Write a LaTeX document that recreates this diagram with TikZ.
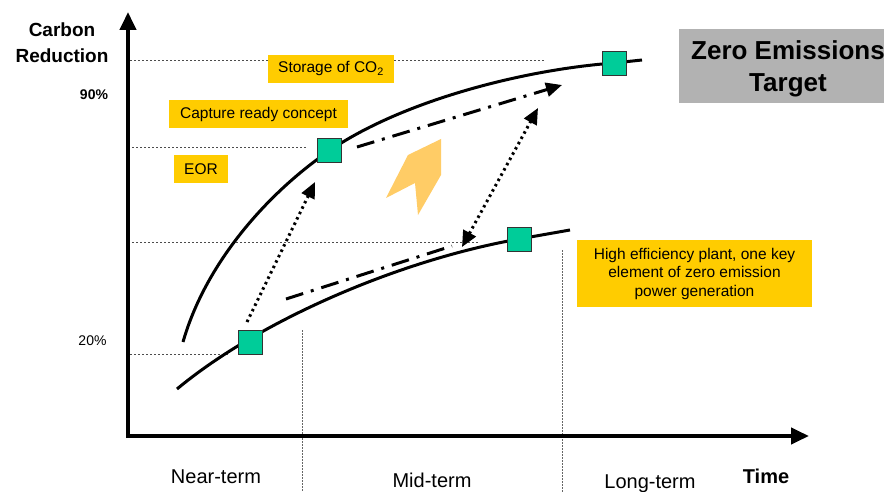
\documentclass[tikz,border=0pt]{standalone}
\usepackage{fontspec}
\setmainfont{Liberation Sans}
\usetikzlibrary{arrows.meta}
\definecolor{boxor}{HTML}{FFCC00}
\definecolor{sqgreen}{HTML}{00CC99}
\definecolor{zgray}{HTML}{B2B2B2}
\definecolor{bigor}{HTML}{FFCC66}
\tikzset{mytip/.tip={Triangle[length=16pt,width=14pt]}}
\begin{document}
\begin{tikzpicture}[x=1pt,y=-1pt,
  axis/.style={line width=4pt,-{Triangle[length=18pt,width=16pt]}},
  curve/.style={line width=3pt},
  guide/.style={line width=0.9pt,black!70,dash pattern=on 1.5pt off 2.5pt},
  vguide/.style={line width=0.9pt,black!60,dash pattern=on 1.5pt off 1.5pt},
  sq/.style={draw=black!80,line width=1pt,fill=sqgreen,minimum size=24pt,inner sep=0pt},
  obox/.style={fill=boxor,inner sep=0pt,font=\fontsize{15.5}{18.5}\selectfont,align=center},
  dotarrow/.style={line width=3pt,dash pattern=on 2.5pt off 3.5pt},
  dasharrow/.style={line width=3pt,dash pattern=on 18pt off 8pt on 3pt off 8pt},
  lbl/.style={anchor=base,inner sep=0pt,font=\fontsize{20}{24}\selectfont},
  blbl/.style={anchor=base,inner sep=0pt,font=\fontsize{20}{24}\selectfont\bfseries}
]
\useasboundingbox (0,0) rectangle (884,492);
\fill[white] (0,0) rectangle (884,492);

% guide lines
\draw[guide] (130,60) -- (545,60);
\draw[guide] (132,147) -- (307,147);
\draw[guide] (132,242) -- (480,242);
\draw[guide] (130,354) -- (230,354);
\draw[vguide] (302,330) -- (302,492);
\draw[vguide] (562,250) -- (562,492);

% axes
\coordinate (o) at (128,436);
\coordinate (ytip) at (128,12);
\coordinate (xtip) at (809,436);
\draw[axis] (128,438) -- (ytip);
\draw[axis] (126,436) -- (xtip);

% big orange arrow
\fill[bigor] (441,139) -- (408,155) -- (386,198) -- (415,183) -- (418,215) -- (441,175) -- cycle;

% curves
\draw[curve] (183,342) .. controls (205,265) and (265,195) .. (329,151)
  .. controls (400,102) and (520,70) .. (614,63) -- (642,60);
\draw[curve] (177,389) .. controls (260,320) and (400,260) .. (519,239) -- (570,230);

% arrows
\coordinate (a1s) at (247,322);
\coordinate (a1e) at (315,182);
\coordinate (a2s) at (462,247);
\coordinate (a2e) at (538,108);
\coordinate (b1s) at (357,147);
\coordinate (b1e) at (562,85);
\coordinate (b2s) at (286,299);
\coordinate (b2e) at (452,246);
\draw[dotarrow,-{mytip}] (a1s) -- (a1e);
\draw[dotarrow,{mytip}-{mytip}] (a2s) -- (a2e);
\draw[dasharrow,-{mytip}] (b1s) -- (b1e);
\draw[dasharrow] (b2s) -- (b2e);

% squares
\node[sq] (s1) at (250,342) {};
\node[sq] (s2) at (329,151) {};
\node[sq] (s3) at (519,239) {};
\node[sq] (s4) at (614,64) {};

% orange boxes
\node[obox,minimum width=126pt,minimum height=28pt] (storage) at (331,69) {Storage of CO\textsubscript{2}};
\node[obox,minimum width=179pt,minimum height=28pt] (capture) at (258.5,114) {Capture ready concept};
\node[obox,minimum width=54pt,minimum height=28pt] (eor) at (201,169) {EOR};
\node[obox,minimum width=235pt,minimum height=67pt] (heff) at (694.5,273.5) {High efficiency plant, one key\\element of zero emission\\power generation};

% zero emissions target
\begin{scope}
\clip (0,0) rectangle (884,492);
\fill[zgray] (679,29) rectangle (900,103);
\node[anchor=base,inner sep=0pt,font=\fontsize{26}{30}\selectfont\bfseries] (zero) at (788,60) {Zero Emissions};
\node[anchor=base,inner sep=0pt,font=\fontsize{26}{30}\selectfont\bfseries] (target) at (788,92) {Target};
\end{scope}

% axis labels
\node[anchor=base,inner sep=0pt,font=\fontsize{19}{23}\selectfont\bfseries] (carbon) at (62,37) {Carbon};
\node[anchor=base,inner sep=0pt,font=\fontsize{19}{23}\selectfont\bfseries] (reduction) at (62,63) {Reduction};
\node[anchor=base,inner sep=0pt,font=\fontsize{14}{17}\selectfont\bfseries] (p90) at (94,100) {90\%};
\node[anchor=base,inner sep=0pt,font=\fontsize{14}{17}\selectfont] (p20) at (92.5,345) {20\%};
\node[lbl] (near) at (216,483) {Near-term};
\node[lbl] (mid) at (432,487) {Mid-term};
\node[lbl] (long) at (650,488) {Long-term};
\node[blbl] (time) at (766,483) {Time};
\end{tikzpicture}
\end{document}
